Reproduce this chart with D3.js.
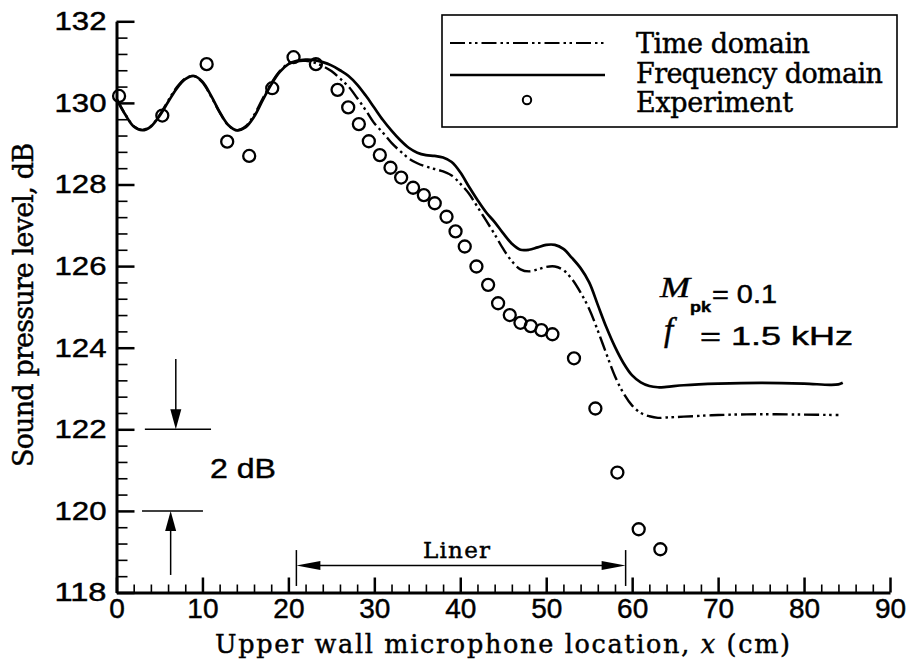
<!DOCTYPE html>
<html>
<head>
<meta charset="utf-8">
<script src="https://cdn.jsdelivr.net/npm/d3@7"></script>
<style>
  html, body { margin: 0; padding: 0; background: #fff; }
  svg { display: block; }
  text { fill: #000; stroke: #000; stroke-width: 0.45px; }
</style>
</head>
<body>
<svg id="chart" width="908" height="670"></svg>
<script>
// Axial decay of sound pressure level along the upper wall of a lined duct.

// Frequency-domain prediction
const freqX = [0,1,2,3,4,5,6,7,8,9,10,11,12,13,14,15,16,17,18,19,20,21,22,23,24,25,26,27,28,29,30,31,32,33,34,35,36,37,38,39,40,41,42,43,44,45,46,47,48,49,50,51,52,53,54,55,56,57,58,59,60,61,62,63,64,66,70,75,80,83,84,84.5];
const freqSPL = [130.10,129.72,129.42,129.33,129.42,129.68,130.02,130.35,130.58,130.66,130.52,130.18,129.78,129.46,129.33,129.40,129.66,130.06,130.45,130.76,130.95,131.03,131.06,131.05,131.00,130.92,130.80,130.66,130.45,130.18,129.88,129.58,129.32,129.09,128.90,128.78,128.72,128.70,128.66,128.55,128.30,127.95,127.62,127.32,127.08,126.80,126.55,126.40,126.40,126.46,126.52,126.52,126.42,126.20,125.95,125.60,125.05,124.50,124.02,123.62,123.32,123.15,123.06,123.03,123.04,123.08,123.12,123.14,123.12,123.09,123.10,123.14];

// Time-domain prediction
const timeX = [0,1,2,3,4,5,6,7,8,9,10,11,12,13,14,15,16,17,18,19,20,21,22,23,24,25,26,27,28,29,30,31,32,33,34,35,36,37,38,39,40,41,42,43,44,45,46,47,48,49,50,51,52,53,54,55,56,57,58,59,60,61,62,63,64,66,70,75,80,84];
const timeSPL = [130.10,129.73,129.43,129.34,129.43,129.70,130.05,130.38,130.60,130.66,130.50,130.16,129.77,129.45,129.33,129.42,129.70,130.10,130.48,130.78,130.96,131.02,131.03,130.99,130.90,130.78,130.60,130.40,130.12,129.82,129.50,129.27,129.02,128.82,128.64,128.52,128.44,128.38,128.32,128.22,128.02,127.78,127.45,127.12,126.78,126.42,126.12,125.92,125.87,125.92,125.98,125.99,125.90,125.68,125.35,124.95,124.42,123.85,123.30,122.88,122.58,122.40,122.32,122.28,122.29,122.31,122.35,122.37,122.36,122.35];

// Measured microphone levels
const expX = [0.3,5.33,10.49,12.88,15.44,18.12,20.6,23.2,25.72,26.96,28.2,29.36,30.64,31.88,33.12,34.51,35.76,37.03,38.4,39.45,40.52,41.88,43.24,44.4,45.76,47.0,48.2,49.44,50.72,53.23,55.72,58.28,60.76,63.28];
const expSPL = [130.17,129.69,130.95,129.05,128.70,130.36,131.12,130.95,130.32,129.89,129.48,129.06,128.72,128.41,128.17,127.92,127.74,127.54,127.21,126.85,126.48,125.99,125.54,125.09,124.80,124.61,124.53,124.43,124.33,123.74,122.51,120.94,119.55,119.06];

// Axis ticks
const xMajorTicks = [0,10,20,30,40,50,60,70,80,90];
const yMajorTicks = [118,120,122,124,126,128,130,132];
const xMinorTicks = d3.range(0, 90.01, 2).filter(v => v % 10 !== 0);
const yMinorTicks = d3.range(118, 132.01, 0.4).filter(v => Math.abs((v - 118) / 2 - Math.round((v - 118) / 2)) > 0.01);

// Annotation positions in data units
const linerStart = 20.93, linerEnd = 59.24, linerLevel = 118.66;
const scaleBarTop = 122, scaleBarBottom = 120;

const svg = d3.select("#chart");
const x = d3.scaleLinear().domain([0, 90]).range([116.5, 890]);
const y = d3.scaleLinear().domain([118, 132]).range([592.5, 21.3]);

const sans = "'Liberation Sans', Arial, Helvetica, sans-serif";
const serif = "'DejaVu Serif', 'Liberation Serif', serif";
const dashDotDot = "15,4,2.5,3.5,2.5,4";

// ---- axes ----
const yAxis = svg.append("g").attr("transform", `translate(${x(0)},0)`)
  .call(d3.axisLeft(y).tickValues(yMajorTicks).tickSizeInner(-18).tickSizeOuter(0).tickPadding(10).tickFormat(d3.format("d")));
yAxis.select(".domain").attr("stroke-width", 3);
yAxis.selectAll(".tick line").attr("stroke-width", 2.5);
yAxis.selectAll(".tick text")
  .attr("font-family", sans).attr("font-size", 26)
  .attr("textLength", 52).attr("lengthAdjust", "spacingAndGlyphs");

svg.append("g").attr("transform", `translate(${x(0)},0)`)
  .call(d3.axisLeft(y).tickValues(yMinorTicks).tickSizeInner(-11).tickSizeOuter(0).tickFormat(""))
  .call(g => g.select(".domain").remove())
  .selectAll(".tick line").attr("stroke-width", 1.6);

const xAxis = svg.append("g").attr("transform", `translate(0,${y(118)})`)
  .call(d3.axisBottom(x).tickValues(xMajorTicks).tickSizeInner(-15).tickSizeOuter(0).tickPadding(5.5).tickFormat(d3.format("d")));
xAxis.select(".domain").attr("stroke-width", 3);
xAxis.selectAll(".tick line").attr("stroke-width", 2.5);
xAxis.selectAll(".tick text")
  .attr("font-family", sans).attr("font-size", 28);

svg.append("g").attr("transform", `translate(0,${y(118)})`)
  .call(d3.axisBottom(x).tickValues(xMinorTicks).tickSizeInner(-8).tickSizeOuter(0).tickFormat(""))
  .call(g => g.select(".domain").remove())
  .selectAll(".tick line").attr("stroke-width", 1.6);

// ---- axis titles ----
const xTitle = svg.append("text")
  .attr("x", 215).attr("y", 653)
  .attr("font-family", serif).attr("font-size", 25.5)
  .attr("textLength", 575).attr("lengthAdjust", "spacing");
xTitle.append("tspan").text("Upper wall microphone location, ");
xTitle.append("tspan").attr("font-style", "italic").text("x");
xTitle.append("tspan").text(" (cm)");

svg.append("text")
  .attr("transform", "translate(33,305) rotate(-90)")
  .attr("text-anchor", "middle")
  .attr("font-family", serif).attr("font-size", 27)
  .attr("textLength", 324).attr("lengthAdjust", "spacing")
  .text("Sound pressure level, dB");

// ---- data ----
const line = d3.line().x(d => x(d[0])).y(d => y(d[1])).curve(d3.curveCatmullRom.alpha(0.5));

svg.append("path")
  .datum(d3.zip(timeX, timeSPL))
  .attr("d", line)
  .attr("fill", "none").attr("stroke", "#000").attr("stroke-width", 2.4)
  .attr("stroke-dasharray", dashDotDot);

svg.append("path")
  .datum(d3.zip(freqX, freqSPL))
  .attr("d", line)
  .attr("fill", "none").attr("stroke", "#000").attr("stroke-width", 2.7);

svg.append("g").selectAll("circle")
  .data(d3.zip(expX, expSPL))
  .join("circle")
  .attr("cx", d => x(d[0])).attr("cy", d => y(d[1])).attr("r", 6)
  .attr("fill", "none").attr("stroke", "#000").attr("stroke-width", 2.3);

// ---- legend ----
const legend = svg.append("g");
legend.append("rect").attr("x", 442).attr("y", 15).attr("width", 455).attr("height", 112)
  .attr("fill", "#fff").attr("stroke", "#000").attr("stroke-width", 1.6);
legend.append("line").attr("x1", 450).attr("x2", 605).attr("y1", 43).attr("y2", 43)
  .attr("stroke", "#000").attr("stroke-width", 2.2).attr("stroke-dasharray", dashDotDot);
legend.append("line").attr("x1", 450).attr("x2", 605).attr("y1", 75).attr("y2", 75)
  .attr("stroke", "#000").attr("stroke-width", 2.7);
legend.append("circle").attr("cx", 527).attr("cy", 100).attr("r", 4.2)
  .attr("fill", "none").attr("stroke", "#000").attr("stroke-width", 2);
const legendLabels = ["Time domain", "Frequency domain", "Experiment"];
const legendBase = [53.3, 83.3, 111.7];
const legendLen = [174, 247, 157];
legendLabels.forEach((t, i) => {
  legend.append("text").attr("x", 636).attr("y", legendBase[i])
    .attr("font-family", serif).attr("font-size", 27)
    .attr("textLength", legendLen[i]).attr("lengthAdjust", "spacing")
    .text(t);
});

// ---- flow conditions ----
svg.append("text").attr("x", 660).attr("y", 297)
  .attr("font-family", "'Liberation Serif', serif").attr("font-style", "italic").attr("font-size", 29)
  .attr("textLength", 30).attr("lengthAdjust", "spacingAndGlyphs").text("M");
svg.append("text").attr("x", 690).attr("y", 311.5)
  .attr("font-family", sans).attr("font-weight", "bold").attr("font-size", 15)
  .attr("textLength", 21).attr("lengthAdjust", "spacingAndGlyphs").text("pk");
svg.append("text").attr("x", 712).attr("y", 302.5)
  .attr("font-family", sans).attr("font-size", 25)
  .attr("textLength", 65).attr("lengthAdjust", "spacingAndGlyphs").text("= 0.1");
svg.append("text").attr("x", 664).attr("y", 341)
  .attr("font-family", "'Liberation Serif', serif").attr("font-style", "italic").attr("font-size", 33)
  .text("f");
svg.append("text").attr("x", 700).attr("y", 345)
  .attr("font-family", sans).attr("font-size", 26)
  .attr("textLength", 153).attr("lengthAdjust", "spacingAndGlyphs").text("= 1.5 kHz");

// ---- arrow helper ----
function arrowHead(tipX, tipY, dx, dy, len, half) {
  // dx,dy: unit direction the arrow points to
  const bx = tipX - dx * len, by = tipY - dy * len;
  const px = -dy * half, py = dx * half;
  svg.append("path")
    .attr("d", `M${tipX},${tipY}L${bx + px},${by + py}L${bx - px},${by - py}Z`)
    .attr("fill", "#000");
}

// ---- 2 dB scale bar ----
svg.append("line").attr("x1", x(3.3)).attr("x2", x(11.0)).attr("y1", y(scaleBarTop)).attr("y2", y(scaleBarTop))
  .attr("stroke", "#000").attr("stroke-width", 1.5);
svg.append("line").attr("x1", x(2.97)).attr("x2", x(10.06)).attr("y1", y(scaleBarBottom)).attr("y2", y(scaleBarBottom))
  .attr("stroke", "#000").attr("stroke-width", 1.5);
svg.append("line").attr("x1", x(6.9)).attr("x2", x(6.9)).attr("y1", y(123.72)).attr("y2", y(scaleBarTop) - 18)
  .attr("stroke", "#000").attr("stroke-width", 1.5);
arrowHead(x(6.9), y(scaleBarTop), 0, 1, 20, 5.5);
svg.append("line").attr("x1", x(6.3)).attr("x2", x(6.3)).attr("y1", y(118.43)).attr("y2", y(scaleBarBottom) + 18)
  .attr("stroke", "#000").attr("stroke-width", 1.5);
arrowHead(x(6.3), y(scaleBarBottom), 0, -1, 20, 5.5);
svg.append("text").attr("x", 210).attr("y", 478)
  .attr("font-family", sans).attr("font-size", 28)
  .attr("textLength", 66).attr("lengthAdjust", "spacingAndGlyphs").text("2 dB");

// ---- liner extent ----
svg.append("line").attr("x1", x(linerStart)).attr("x2", x(linerStart)).attr("y1", y(119.04)).attr("y2", y(118.16))
  .attr("stroke", "#000").attr("stroke-width", 1.5);
svg.append("line").attr("x1", x(linerEnd)).attr("x2", x(linerEnd)).attr("y1", y(119.04)).attr("y2", y(118.16))
  .attr("stroke", "#000").attr("stroke-width", 1.5);
svg.append("line").attr("x1", x(linerStart) + 20).attr("x2", x(linerEnd) - 20).attr("y1", y(linerLevel)).attr("y2", y(linerLevel))
  .attr("stroke", "#000").attr("stroke-width", 1.5);
arrowHead(x(linerStart), y(linerLevel), -1, 0, 24, 4.5);
arrowHead(x(linerEnd), y(linerLevel), 1, 0, 24, 4.5);
svg.append("text").attr("x", 423).attr("y", 558)
  .attr("font-family", serif).attr("font-size", 23)
  .attr("textLength", 67).attr("lengthAdjust", "spacing").text("Liner");
</script>
</body>
</html>
